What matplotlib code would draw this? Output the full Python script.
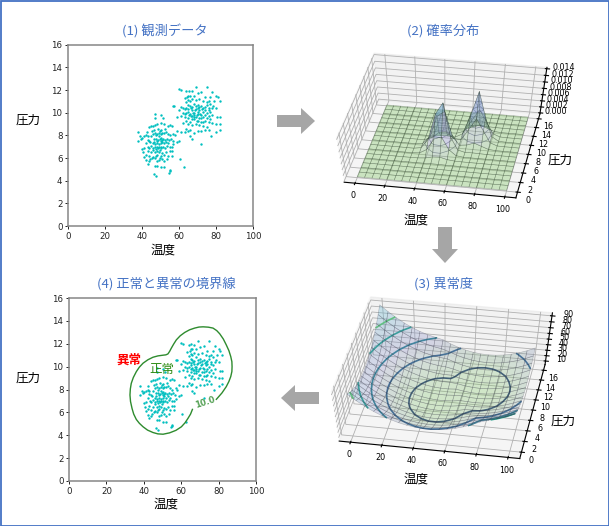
import numpy as np
import matplotlib
matplotlib.use('Agg')
from matplotlib import pyplot as plt
from matplotlib.colors import LinearSegmentedColormap
from matplotlib.patches import Rectangle, Polygon

JP = ['Noto Sans CJK JP', 'DejaVu Sans']
BLUE = '#4472c4'

cluster_low = [
    (38,8.3),(38,7.5),(39,7.9),(39.5,7.7),(40,7.8),(41,7.9),(42,8.0),(42,7.3),(43,7.6),(41,6.9),(40,6.8),(40.5,6.5),
    (41,6.1),(42,5.8),(43,5.5),(42,6.3),(43,6.6),(44,6.2),(44,6.9),(44.5,7.4),(45,7.9),(45.5,8.4),(44,8.7),(45,8.8),
    (46,8.8),(47,8.9),(48,9.0),(47,9.5),(47,9.9),(50,9.8),(51.5,9.5),(50,9.1),(52,9.0),(46.5,4.6),(47.5,4.45),(46.8,5.3),
    (48,5.3),(50,5.2),(54.5,4.7),(55,4.85),(55.2,4.9),(60.5,5.9),(62.5,5.2),(52,5.7),(53.5,5.9),(48,5.7),(49,5.8),(46,6.1),
    (47,6.0),(45,6.5),(46,6.7),(47,6.5),(47.5,6.8),(48,6.6),(48.2,6.3),(48.5,6.9),(49,6.5),(49.5,6.7),(47.8,6.2),(50,6.2),
    (51,6.4),(52,6.3),(53,6.5),(54,6.2),(55,6.6),(56,6.2),(50.5,6.9),(51.5,7.0),(52.5,6.9),(53.5,7.1),(55,7.0),(56,7.0),
    (57,7.2),(45,7.1),(46,7.3),(47,7.2),(48,7.3),(49,7.2),(50,7.3),(51,7.4),(46.5,7.7),(47.5,7.7),(48.5,7.6),(49.5,7.7),
    (50.5,7.8),(51.5,7.7),(52.5,7.6),(53.5,7.7),(54.5,7.6),(55.5,7.7),(56.5,7.5),(46,8.1),(47,8.2),(48,8.1),(49,8.2),
    (50,8.1),(51,8.2),(52,8.2),(53,8.3),(54,8.1),(55,8.0),(57,8.1),(58,8.0),(59,7.4),(60,7.5),(46.5,8.5),(48.5,8.6),
    (50.5,8.5),(52.5,8.6),(54,8.8),(55,8.9),(56,8.8),(42.5,8.3),(43.5,7.0),(45.5,6.0),(49.5,6.0),(51,5.9),(44.5,5.9),
    (47,7.0),(48,7.0),(49,7.0),(50,7.5),(51,7.6),(52,7.3),(53,7.4),(54,7.3),(46,6.9),(48.3,7.5),(49.2,7.9),(50.2,7.0),
    (47.5,8.0),(49.8,8.4),(46.5,7.4),(43,7.9),(44,7.5),(56,6.6),(52,5.2),(44,5.7),
]
cluster_high = [
    (60,12.1),(61,12.0),(64,11.9),(65.5,11.95),(67,11.9),(69,12.25),(75,12.25),(78,11.8),(80,11.5),(81,11.4),(82,11.0),
    (79,11.0),(77,11.4),(76,11.0),(74,11.4),(72,11.8),(70,11.7),(68,11.5),(66,11.5),(64.5,11.4),(63,11.3),(65,11.1),
    (66,11.0),(67,11.2),(69,11.1),(71,11.2),(73,11.0),(75,10.9),(77,10.8),(64,10.9),(65,10.7),(66,10.6),(68,10.8),
    (70,10.7),(72,10.6),(74,10.5),(76,10.4),(78,10.4),(80,10.4),(57,10.55),(57.5,10.6),(61,10.5),(62,10.4),(63,10.3),
    (65,10.3),(67,10.2),(69,10.3),(71,10.2),(73,10.1),(75,10.0),(77,10.1),(60,10.2),(62,10.0),(64,10.0),(66,9.9),
    (68,10.0),(70,9.9),(72,9.8),(74,9.8),(76,9.7),(78,9.8),(59,9.6),(61,9.7),(63,9.6),(65,9.5),(67,9.7),(69,9.6),
    (71,9.5),(73,9.6),(75,9.5),(80.5,9.6),(82,9.6),(64,9.3),(66,9.2),(68,9.4),(70,9.3),(72,9.2),(74,9.3),(76,9.2),
    (78,9.1),(62,9.1),(65,9.0),(67,8.9),(69,9.0),(71,8.9),(73,8.8),(75,8.7),(76,8.5),(80,9.0),(82,9.0),(82,8.5),(80,8.3),
    (64,8.6),(65,8.4),(66,8.5),(68,8.2),(70,8.4),(72,8.4),(74,8.5),(66,7.9),(67,7.7),(63,8.3),(59,8.4),(61,8.3),(77.5,7.95),
    (72,7.25),(68,9.8),(67.5,10.0),(68.5,10.2),(69.5,9.8),(70.5,10.1),(71.5,9.9),(72.5,10.3),(66.5,9.7),(67,9.4),
    (65.5,9.8),(69,10.6),(70,10.4),(73,10.4),(74,10.2),(64,10.4),(65,11.5),(66.5,10.4),(68,9.6),(69.5,9.3),(72,9.5),
    (75,10.7),(76,10.2),(71,10.5),(63,9.9),(65,10.1),(67,10.5),(77,9.4),(78.5,10.6),(73,9.2),
]

# panel (4) boundary, clockwise from the label gap
boundary_x = [66.0,65.0,63.6,62.0,60.1,57.2,53.8,50.3,47.5,44.9,42.0,39.6,37.6,36.0,34.6,33.7,32.9,32.6,32.8,33.3,34.4,36.0,
              37.6,39.6,42.2,44.9,47.6,50.3,51.8,52.9,53.8,54.7,56.0,57.4,59.5,61.9,64.5,67.2,69.5,71.7,74.5,77.0,79.0,80.6,82.5,
              84.1,85.5,86.5,87.1,87.2,87.1,86.5,85.5,84.1,81.8,78.8]
boundary_y = [6.26,5.85,5.47,5.08,4.74,4.43,4.21,4.09,4.12,4.24,4.45,4.74,5.05,5.38,5.85,6.35,6.95,7.52,8.05,8.54,9.05,9.56,
              9.95,10.3,10.6,10.82,10.94,11.0,11.03,11.11,11.33,11.61,11.98,12.34,12.7,12.99,13.22,13.37,13.46,13.48,13.45,13.37,
              13.15,12.87,12.42,11.9,11.4,10.88,10.43,10.0,9.57,9.13,8.7,8.25,7.7,7.14]

grid_x = np.arange(0, 105, 5)
grid_y = np.arange(0, 17, 1)

# panel (2) density (x 1e-3), only the part around the two peaks, rest of the floor is 0
peak_x = [35,40,45,50,55,60,65,70,75,80,85]
peak_y = [4,5,6,7,8,9,10,11,12,13]
peak_z = [
    [0,.02,.06,.07,.02,0,0,0,0,0,0],
    [.03,.25,.83,.98,.34,.05,0,0,0,0,0],
    [.19,1.58,5.36,6.3,2.2,.32,0,0,0,0,0],
    [.42,3.5,11.9,15.5,4.9,.72,.09,.17,.09,.02,0],
    [.34,2.87,9.76,11.5,4.03,.79,1.08,1.96,1.08,.22,.01],
    [.1,.88,2.98,3.5,1.28,1.12,4.7,8.54,4.7,.94,.06],
    [.01,.1,.36,.42,.25,1.56,7.7,15.5,7.7,1.54,.1],
    [0,0,0,0,.06,.94,4.7,8.54,4.7,.94,.06],
    [0,0,0,0,.01,.22,1.08,1.96,1.08,.22,.01],
    [0,0,0,0,0,.02,.09,.17,.09,.02,0],
]

# panel (3) anomaly score, row = pressure 0..16, column = temperature 0..100 step 5
anomaly_z = [
    [82.2,72.1,63.1,55.2,48.4,42.8,38.2,34.8,32.4,31.2,31.1,32.1,34.2,37.4,41.8,47.2,53.8,58.8,62.7,67.7,73.8],
    [75.6,65.5,56.5,48.6,41.8,36.2,31.6,28.2,25.8,24.6,24.5,25.5,27.6,30.8,35.2,40.6,46.7,49.5,53.4,58.4,64.5],
    [69.9,59.8,50.8,42.9,36.1,30.5,25.9,22.5,20.1,18.9,18.8,19.8,21.9,25.1,29.5,34.9,38.4,41.2,45.1,50.1,56.2],
    [65.2,55.1,46.1,38.2,31.4,25.8,21.2,17.8,15.4,14.2,14.1,15.1,17.2,20.4,24.8,29.5,31.1,33.9,37.8,42.8,48.9],
    [61.5,51.4,42.4,34.5,27.7,22.1,17.5,14.1,11.7,10.5,10.4,11.4,13.5,16.7,21.1,23.2,24.8,27.6,31.5,36.5,42.6],
    [58.8,48.7,39.7,31.8,25,19.4,14.8,11.4,9,7.8,7.7,8.7,10.8,14,17.2,17.8,19.4,22.2,26.1,31.1,37.2],
    [57,46.9,37.9,30,23.2,17.6,13,9.6,7.2,6,5.9,6.9,9,12.2,12.8,13.4,15,17.8,21.7,26.7,32.8],
    [56.2,46.1,37.1,29.2,22.4,16.8,12.2,8.8,6.4,5.2,5.1,6.1,8.2,10,9.4,10,11.6,14.4,18.3,23.3,29.4],
    [56.4,46.3,37.3,29.4,22.6,17,12.4,9,6.6,5.4,5.3,6.3,8.4,7.6,7,7.6,9.2,12,15.9,20.9,27],
    [57.6,47.5,38.5,30.6,23.8,18.2,13.6,10.2,7.8,6.6,6.5,7.5,7.7,6.1,5.5,6.1,7.7,10.5,14.4,19.4,25.5],
    [59.8,49.7,40.7,32.8,26,20.4,15.8,12.4,10,8.8,8.7,9.7,7.2,5.6,5,5.6,7.2,10,13.9,18.9,25],
    [62.9,52.8,43.8,35.9,29.1,23.5,18.9,15.5,13.1,11.9,11.8,10.5,7.7,6.1,5.5,6.1,7.7,10.5,14.4,19.4,25.5],
    [67,56.9,47.9,40,33.2,27.6,23,19.6,17.2,16,15.9,12,9.2,7.6,7,7.6,9.2,12,15.9,20.9,27],
    [72.1,62,53,45.1,38.3,32.7,28.1,24.7,22.3,21.1,18.3,14.4,11.6,10,9.4,10,11.6,14.4,18.3,23.3,29.4],
    [78.1,68,59,51.1,44.3,38.7,34.1,30.7,28.3,26.7,21.7,17.8,15,13.4,12.8,13.4,15,17.8,21.7,26.7,32.8],
    [85.1,75,66,58.1,51.3,45.7,41.1,37.7,35.3,31.1,26.1,22.2,19.4,17.8,17.2,17.8,19.4,22.2,26.1,31.1,37.2],
    [93.1,83,74,66.1,59.3,53.7,49.1,45.7,42.6,36.5,31.5,27.6,24.8,23.2,22.6,23.2,24.8,27.6,31.5,36.5,42.6],
]
anomaly_levels = [14, 30, 45, 60, 75]
level_colors = ['#2a3c78', '#2b5c92', '#21808c', '#1f9e89', '#5ec962']

W, H = 609, 526
fig = plt.figure(figsize=(W / 100, H / 100), dpi=100)
cmap = LinearSegmentedColormap.from_list('soft', ['#7cc45f', '#8f8fc8', '#5fb4d0'])


def rect(x0, y0, x1, y1):
    return [x0 / W, 1 - y1 / H, (x1 - x0) / W, (y1 - y0) / H]


def flat_panel(box):
    ax = fig.add_axes(rect(*box))
    pts = np.array(cluster_low + cluster_high)
    ax.scatter(pts[:, 0], pts[:, 1], s=3, c='c', linewidths=0)
    ax.set_xlim(0, 100)
    ax.set_ylim(0, 16)
    ax.set_xticks(range(0, 101, 20))
    ax.set_yticks(range(0, 17, 2))
    ax.tick_params(labelsize=6.2, length=2.5, width=.7, pad=1.5, colors='#222222')
    for s in ax.spines.values():
        s.set_color('#868686')
        s.set_linewidth(1.1)
    return ax


def surf_panel(box, elev, azim, zticks, zlabels):
    ax = fig.add_axes(rect(*box), projection='3d')
    # the reference 3d panels are stretched to fill a wide box, keep the rect as given
    ax.apply_aspect = lambda position=None: None
    ax.view_init(elev=elev, azim=azim)
    ax.set_xticks(range(0, 101, 20))
    ax.set_yticks(range(0, 17, 2))
    ax.set_zticks(zticks)
    ax.set_zticklabels(zlabels)
    ax.tick_params(labelsize=5.8, pad=-3)
    ax.tick_params(axis='z', pad=-1)
    for a in (ax.xaxis, ax.yaxis, ax.zaxis):
        a._axinfo['grid']['linewidth'] = .6
    ax.patch.set_alpha(0)
    return ax


ax1 = flat_panel((68, 44.7, 253, 226))

# panel 2
Z2 = np.zeros((len(grid_y), len(grid_x)))
Z2[np.ix_(np.searchsorted(grid_y, peak_y), np.searchsorted(grid_x, peak_x))] = np.array(peak_z) * 1e-3
X, Y = np.meshgrid(grid_x, grid_y)
ax2 = surf_panel((305, 46, 577, 209), 55, -80, np.arange(0, .0141, .002), ['%.3f' % v for v in np.arange(0, .0141, .002)])
ax2.plot_surface(X, Y, Z2, rstride=1, cstride=1, cmap=cmap, alpha=.35, edgecolor='#223322', linewidth=.4, vmin=0, vmax=.014)
ax2.contour(X, Y, Z2, levels=[.002, .004, .006, .008, .01, .012], colors='#555577', linewidths=.5, alpha=.7)
ax2.set_zlim(-.0003, .0144)

# panel 3
Z3 = np.array(anomaly_z)
ax3 = surf_panel((298, 289, 584, 471), 55, -80, range(10, 91, 10), [str(v) for v in range(10, 91, 10)])
ax3.plot_surface(X, Y, Z3, rstride=1, cstride=1, cmap=cmap, alpha=.3, edgecolor='#333344', linewidth=.4, vmin=5, vmax=85)
ax3.contour(X, Y, Z3, levels=anomaly_levels, colors=level_colors, linewidths=1.2)

# panel 4
ax4 = flat_panel((69, 298, 256, 481))
ax4.plot(boundary_x, boundary_y, color='#2e8b2e', lw=1.0)
ax4.text(72.5, 6.85, '10.0', color='#55a155', fontsize=6, rotation=18, ha='center', va='center', fontweight='bold')
ax4.text(25.2, 10.6, '異常', color='red', fontsize=9, family=JP, fontweight='bold', va='center')
ax4.text(43, 9.77, '正常', color='#2a8a10', fontsize=9, family=JP, va='center')

# overlay in pixel coordinates: frame, arrows, titles, axis labels
ov = fig.add_axes([0, 0, 1, 1], zorder=5)
ov.set_xlim(0, W)
ov.set_ylim(H, 0)
ov.axis('off')
ov.add_patch(Rectangle((.5, .5), W - 1, H - 1, fill=False, ec=BLUE, lw=1.3))

GREY = '#a6a6a6'
ov.add_patch(Polygon([(277,115),(301,115),(301,108),(315,121),(301,134),(301,127),(277,127)], fc=GREY, ec='none'))
ov.add_patch(Polygon([(319,392),(295,392),(295,385),(281,398),(295,411),(295,404),(319,404)], fc=GREY, ec='none'))
ov.add_patch(Polygon([(438,227),(452,227),(452,249),(458,249),(445,263),(432,249),(438,249)], fc=GREY, ec='none'))

titles = [(165, 31, '(1) 観測データ'), (443, 31, '(2) 確率分布'), (444, 284, '(3) 異常度'), (166, 284, '(4) 正常と異常の境界線')]
for tx, ty, s in titles:
    ov.text(tx, ty, s, color=BLUE, fontsize=9.5, family=JP, ha='center', va='center')
labels = [(163, 250, '温度'), (28, 120, '圧力'), (166, 504, '温度'), (28, 378, '圧力'),
          (416, 220, '温度'), (560, 160, '圧力'), (416, 479, '温度'), (563, 421, '圧力')]
for tx, ty, s in labels:
    ov.text(tx, ty, s, color='black', fontsize=9, family=JP, ha='center', va='center')

fig.savefig('out.png', dpi=100)
